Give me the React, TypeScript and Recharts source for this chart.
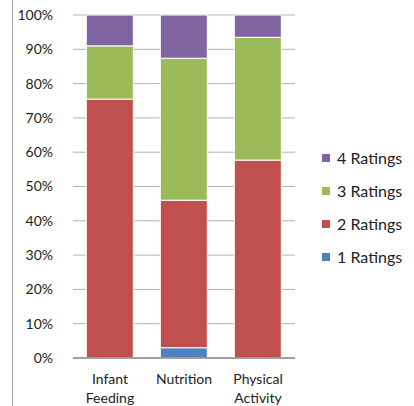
import React from "react";
import { BarChart, Bar, XAxis, YAxis, CartesianGrid } from "recharts";

const categories = ["Infant Feeding", "Nutrition", "Physical Activity"];
const ratings1 = [0, 3, 0];
const ratings2 = [75.5, 43, 57.7];
const ratings3 = [15.5, 41.4, 35.8];
const ratings4 = [9, 12.6, 6.5];
const yTicks = [0, 10, 20, 30, 40, 50, 60, 70, 80, 90, 100];

const series = [
  { key: "r1", name: "1 Ratings", color: "#4F81BD" },
  { key: "r2", name: "2 Ratings", color: "#C0504D" },
  { key: "r3", name: "3 Ratings", color: "#9BBB59" },
  { key: "r4", name: "4 Ratings", color: "#8064A2" },
];

const data = categories.map((c, i) => ({
  name: c,
  r1: ratings1[i],
  r2: ratings2[i],
  r3: ratings3[i],
  r4: ratings4[i],
}));

const FONT = "Lato, 'Open Sans', sans-serif";

function XTick(props: any) {
  const { x, y, payload } = props;
  const words = String(payload.value).split(" ");
  return (
    <text x={x} y={y} textAnchor="middle" fill="#222" fontSize={14} fontFamily={FONT}>
      {words.map((w, i) => (
        <tspan key={i} x={x} dy={i === 0 ? 18 : 19}>{w}</tspan>
      ))}
    </text>
  );
}

function LegendBox() {
  // Excel lists the stack top-down
  const items = [...series].reverse();
  return (
    <div style={{ position: "absolute", left: 322, top: 148, display: "flex", flexDirection: "column", gap: "13px" }}>
      {items.map(s => (
        <div key={s.key} style={{ display: "flex", alignItems: "center", fontFamily: FONT, fontSize: 16, lineHeight: "20px", color: "#222", height: 20 }}>
          <div style={{ width: 8, height: 8, background: s.color, marginRight: 7 }}></div>
          <span>{s.name}</span>
        </div>
      ))}
    </div>
  );
}

export default function App() {
  return (
    <div style={{ position: "absolute", left: 0, top: 0, width: 414, height: 406, background: "#fff", overflow: "hidden" }}>
      <div style={{ position: "absolute", left: 12, top: 0, width: 1, height: 406, background: "#a6a6a6" }}></div>
      <BarChart
        width={414}
        height={406}
        data={data}
        margin={{ top: 15, right: 119, bottom: 18, left: 0 }}
        barCategoryGap="18%"
      >
        <CartesianGrid vertical={false} stroke="#b3b3b3" strokeWidth={1} />
        <XAxis
          dataKey="name"
          axisLine={{ stroke: "#8c8c8c", strokeWidth: 1.5 }}
          tickLine={false}
          tick={<XTick />}
          interval={0}
        />
        <YAxis
          width={73}
          domain={[0, 100]}
          ticks={yTicks}
          tickFormatter={(v: number) => `${v}%`}
          axisLine={false}
          tickLine={false}
          tickMargin={14}
          tick={{ fill: "#222", fontSize: 14, fontFamily: FONT }}
        />
        {series.map(s => (
          <Bar key={s.key} dataKey={s.key} name={s.name} stackId="a" fill={s.color} stroke="#fff" strokeWidth={1} isAnimationActive={false} />
        ))}
      </BarChart>
      <LegendBox />
    </div>
  );
}
